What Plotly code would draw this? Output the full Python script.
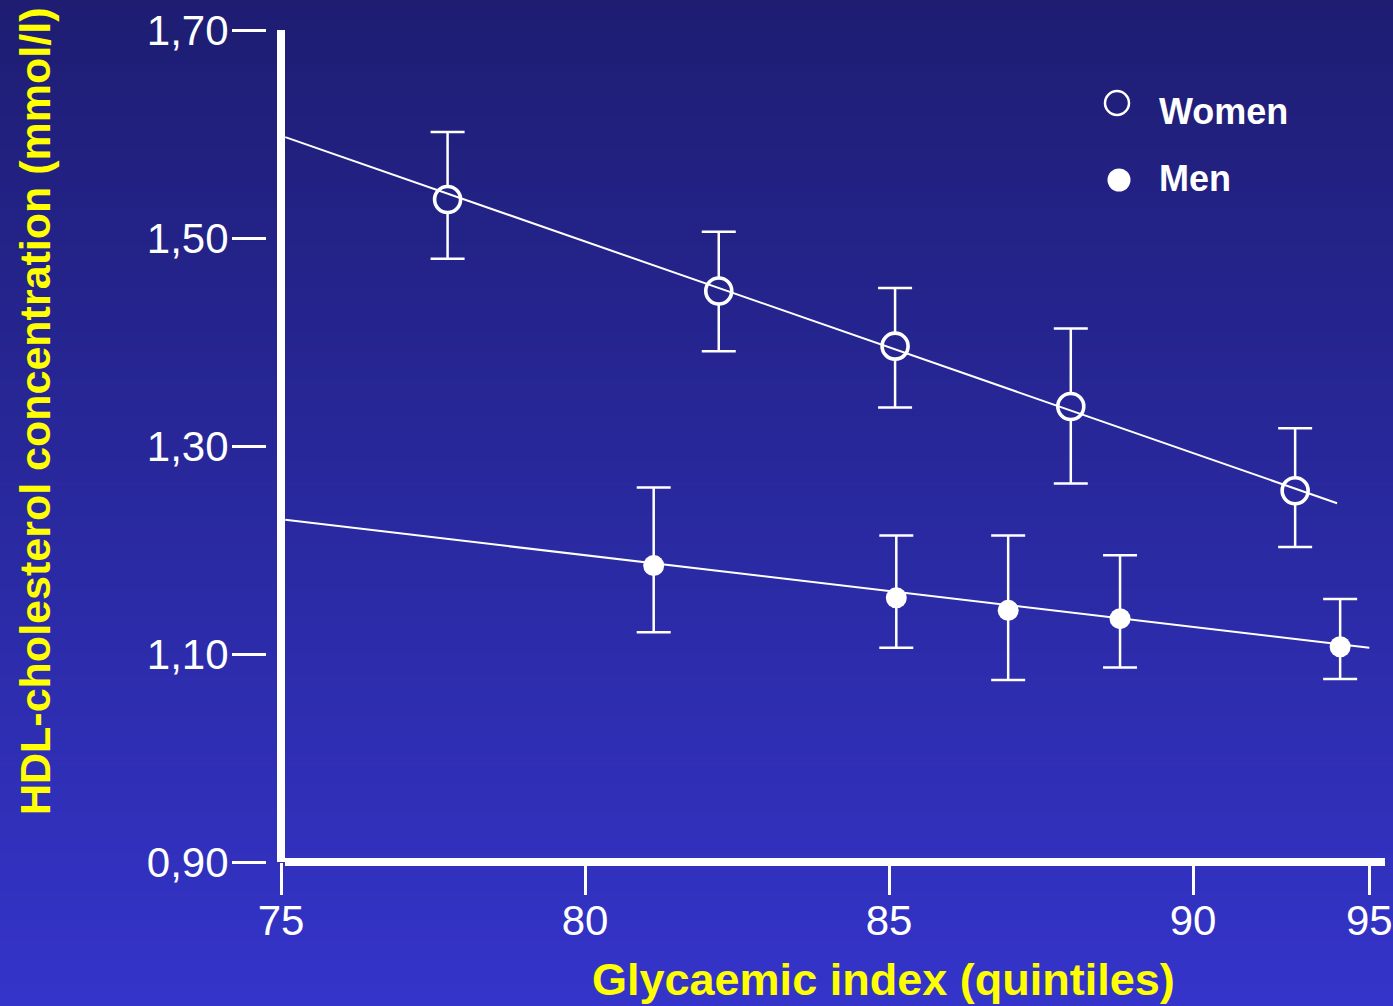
import plotly.graph_objects as go

W, H = 1393, 1006

# ---------------- data ----------------
women_x = [77.74, 82.20, 85.10, 87.99, 91.68]
women_y = [1.537, 1.449, 1.396, 1.338, 1.257]
women_hi = [1.602, 1.506, 1.452, 1.413, 1.317]
women_lo = [1.480, 1.391, 1.337, 1.264, 1.203]

men_x = [81.13, 85.12, 86.96, 88.80, 92.42]
men_y = [1.185, 1.154, 1.142, 1.134, 1.107]
men_hi = [1.260, 1.214, 1.214, 1.195, 1.153]
men_lo = [1.121, 1.106, 1.075, 1.087, 1.076]

women_fit_x = [75.07, 92.37]
women_fit_y = [1.597, 1.245]
men_fit_x = [75.07, 92.90]
men_fit_y = [1.229, 1.106]

# the reference draws its last label ("95") at the end of a compressed final interval
x_tick_vals = [75, 80, 85, 90, 92.9]
x_tick_text = ["75", "80", "85", "90", "95"]
y_tick_vals = [0.90, 1.10, 1.30, 1.50, 1.70]
y_tick_text = ["0,90", "1,10", "1,30", "1,50", "1,70"]

series_names = ["Women", "Men"]

# ---------------- layout geometry ----------------
X_RANGE = [75, 75 + (1385 - 281) / 60.8]
Y_RANGE = [0.90, 1.70]
xdom = [281 / W, 1385 / W]
ydom = [1 - 862 / H, 1 - 30 / H]

TOP = (30, 29, 114)
BOT = (52, 52, 202)


def bg_at(frac_from_top):
    c = [round(TOP[i] + (BOT[i] - TOP[i]) * frac_from_top) for i in range(3)]
    return "rgb(%d,%d,%d)" % tuple(c)


def frac_of_value(v):
    # fraction from the top of the figure for a y value (used only for marker fill colour)
    return (1 - ydom[1]) + (Y_RANGE[1] - v) / (Y_RANGE[1] - Y_RANGE[0]) * (ydom[1] - ydom[0])


shapes = []
N = 140
for i in range(N):
    shapes.append(dict(type="rect", xref="paper", yref="paper",
                       x0=0, x1=1, y0=1 - (i + 1) / N, y1=1 - i / N + 0.001,
                       fillcolor=bg_at((i + 0.5) / N), line=dict(width=0), layer="below"))

fig = go.Figure()

# women
fig.add_trace(go.Scatter(
    x=women_x, y=women_y, mode="markers", name=series_names[0],
    error_y=dict(type="data", symmetric=False,
                 array=[h - m for h, m in zip(women_hi, women_y)],
                 arrayminus=[m - l for l, m in zip(women_lo, women_y)],
                 color="white", thickness=2.5, width=17),
    marker=dict(symbol="circle", size=26,
                color=[bg_at(frac_of_value(v)) for v in women_y],
                line=dict(color="white", width=3.6)),
    showlegend=False))
fig.add_trace(go.Scatter(x=women_fit_x, y=women_fit_y, mode="lines",
                         line=dict(color="white", width=2), showlegend=False))

# men
fig.add_trace(go.Scatter(
    x=men_x, y=men_y, mode="markers", name=series_names[1],
    error_y=dict(type="data", symmetric=False,
                 array=[h - m for h, m in zip(men_hi, men_y)],
                 arrayminus=[m - l for l, m in zip(men_lo, men_y)],
                 color="white", thickness=2.5, width=17),
    marker=dict(symbol="circle", size=21, color="white", line=dict(width=0)),
    showlegend=False))
fig.add_trace(go.Scatter(x=men_fit_x, y=men_fit_y, mode="lines",
                         line=dict(color="white", width=2), showlegend=False))

# axis lines (thick white)
shapes.append(dict(type="line", xref="paper", yref="paper",
                   x0=281 / W, x1=281 / W, y0=1 - 862 / H, y1=1 - 30 / H,
                   line=dict(color="white", width=8)))
shapes.append(dict(type="line", xref="paper", yref="paper",
                   x0=285 / W, x1=1385 / W, y0=1 - 862 / H, y1=1 - 862 / H,
                   line=dict(color="white", width=8)))

# legend (drawn)
shapes.append(dict(type="circle", xref="paper", yref="paper", xsizemode="pixel", ysizemode="pixel",
                   xanchor=1117 / W, yanchor=1 - 103 / H, x0=-12, x1=12, y0=-12, y1=12,
                   line=dict(color="white", width=2.5), fillcolor="rgba(0,0,0,0)"))
shapes.append(dict(type="circle", xref="paper", yref="paper", xsizemode="pixel", ysizemode="pixel",
                   xanchor=1119 / W, yanchor=1 - 180 / H, x0=-11.5, x1=11.5, y0=-11.5, y1=11.5,
                   line=dict(color="white", width=0), fillcolor="white"))

FONT = "Liberation Sans, Arial, sans-serif"
annotations = [
    dict(text=series_names[0], xref="paper", yref="paper", x=1157 / W, y=1 - 111 / H,
         xanchor="left", yanchor="middle", showarrow=False,
         font=dict(family=FONT, size=36, color="white", weight="bold")),
    dict(text=series_names[1], xref="paper", yref="paper", x=1157 / W, y=1 - 178 / H,
         xanchor="left", yanchor="middle", showarrow=False,
         font=dict(family=FONT, size=36, color="white", weight="bold")),
    dict(text="Glycaemic index (quintiles)", xref="paper", yref="paper", x=883 / W, y=1 - 979 / H,
         xanchor="center", yanchor="middle", showarrow=False,
         font=dict(family=FONT, size=45, color="#ffff00", weight="bold")),
    dict(text="HDL-cholesterol concentration (mmol/l)", xref="paper", yref="paper",
         x=35 / W, y=1 - 411 / H, xanchor="center", yanchor="middle", textangle=-90,
         showarrow=False, font=dict(family=FONT, size=43, color="#ffff00", weight="bold")),
]

fig.update_layout(
    width=W, height=H, margin=dict(l=0, r=0, t=0, b=0, pad=0, autoexpand=False),
    paper_bgcolor=bg_at(0.5), plot_bgcolor="rgba(0,0,0,0)",
    shapes=shapes, annotations=annotations, showlegend=False,
    xaxis=dict(domain=xdom, range=X_RANGE, showgrid=False, zeroline=False, showline=False,
               tickmode="array", tickvals=x_tick_vals, ticktext=x_tick_text,
               ticks="outside", ticklen=32, tickwidth=2.5, tickcolor="white",
               tickfont=dict(family=FONT, size=42, color="white"), ticklabelstandoff=-10),
    yaxis=dict(domain=ydom, range=Y_RANGE, showgrid=False, zeroline=False, showline=False,
               anchor="free", position=266 / W,
               tickmode="array", tickvals=y_tick_vals, ticktext=y_tick_text,
               ticks="outside", ticklen=34, tickwidth=2.5, tickcolor="white",
               tickfont=dict(family=FONT, size=42, color="white"), ticklabelstandoff=-5),
)

fig.write_html("out.html", config={"displayModeBar": False},
               post_script="document.body.style.margin='0';document.body.style.overflow='hidden';")
